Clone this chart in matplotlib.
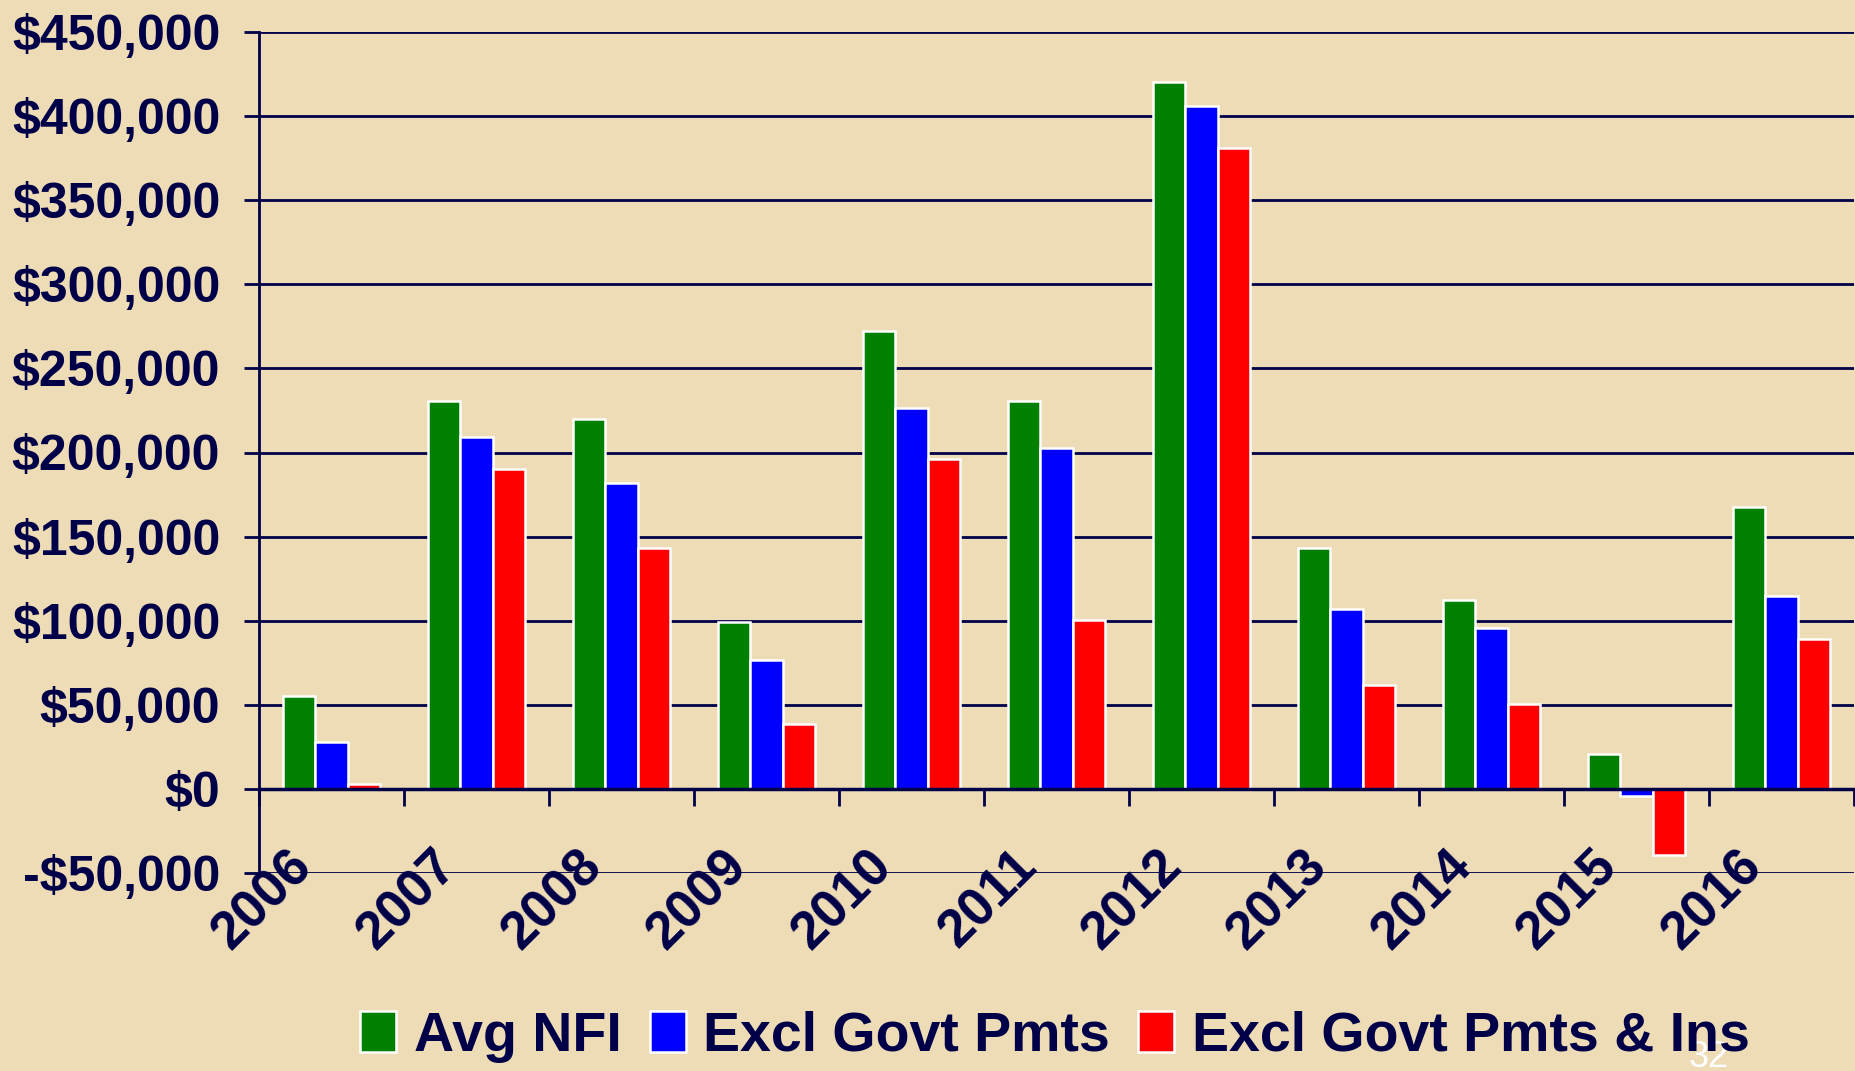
import matplotlib
matplotlib.use("Agg")
import matplotlib.pyplot as plt
import matplotlib.transforms as mtransforms
from matplotlib.patches import Patch
import numpy as np

years = ["2006", "2007", "2008", "2009", "2010", "2011", "2012", "2013", "2014", "2015", "2016"]
avg_nfi = [55500, 230500, 220000, 99000, 272500, 230500, 420500, 143500, 112500, 20500, 167500]
excl_govt = [28000, 209000, 182000, 76500, 226500, 202500, 406000, 107000, 95500, -4000, 114500]
excl_govt_ins = [3000, 190000, 143500, 38500, 196000, 100500, 381000, 62000, 50500, -39500, 89000]
series_names = ["Avg NFI", "Excl Govt Pmts", "Excl Govt Pmts & Ins"]
series_colors = ["#008000", "#0000FF", "#FF0000"]
y_ticks = list(range(-50000, 450001, 50000))

NAVY = "#000048"
BG = "#EEDCB6"
FONT = ["Liberation Sans", "DejaVu Sans"]

W, H = 1855, 1071
fig = plt.figure(figsize=(W / 100, H / 100), dpi=100)
fig.patch.set_facecolor(BG)

ax = fig.add_axes([259 / W, 1 - 873 / H, (1854 - 259) / W, (873 - 32) / H])
ax.set_facecolor("none")
ax.set_xlim(-0.5, 10.5)
ax.set_ylim(-50000, 450000)

x = np.arange(len(years))
bw = 0.222
for k, (vals, col, name) in enumerate(zip([avg_nfi, excl_govt, excl_govt_ins], series_colors, series_names)):
    ax.bar(x + (k - 1) * bw, vals, width=bw, color=col, edgecolor="white", linewidth=1.8, zorder=3, label=name)

# grid
ax.set_yticks(y_ticks)
ax.yaxis.grid(True, color=NAVY, linewidth=2.0, zorder=1)
ax.set_axisbelow(True)

def fmt(v):
    if v < 0:
        return "-${:,}".format(-v)
    return "${:,}".format(v)

ax.set_yticklabels([fmt(v) for v in y_ticks], fontsize=36, fontweight="bold", color=NAVY, family=FONT)
ax.tick_params(axis="y", direction="out", length=11, width=2, color=NAVY, pad=17)

# x axis at zero
ax.spines["top"].set_visible(False)
ax.spines["right"].set_visible(False)
ax.spines["bottom"].set_position(("data", 0))
ax.spines["bottom"].set_color(NAVY)
ax.spines["bottom"].set_linewidth(2.5)
ax.spines["bottom"].set_zorder(4)
ax.spines["left"].set_color(NAVY)
ax.spines["left"].set_linewidth(2.0)
ax.set_xticks(np.arange(-0.5, 11, 1))
ax.set_xticklabels([])
ax.tick_params(axis="x", direction="out", length=12, width=2, color=NAVY)

trans = mtransforms.blended_transform_factory(ax.transData, ax.transAxes)
for i, yr in enumerate(years):
    ax.text(i - 0.125, 0.005, yr, transform=trans, rotation=45, rotation_mode="anchor",
            ha="right", va="baseline", fontsize=38, fontweight="bold", color=NAVY, family=FONT)

handles = [Patch(facecolor=c, edgecolor="white", linewidth=1.8) for c in series_colors]
leg = fig.legend(handles, series_names, loc="center", bbox_to_anchor=(0.5687, 0.032), ncol=3,
                 frameon=False, handlelength=0.65, handleheight=0.75, handletextpad=0.32,
                 columnspacing=0.5, prop={"family": FONT, "weight": "bold", "size": 40})
for t in leg.get_texts():
    t.set_color(NAVY)

fig.text(1709 / W, 1 - 1040 / H, "32", ha="center", va="top", fontsize=26, color="white", family=FONT)

fig.savefig("out.png", dpi=100, facecolor=BG)
